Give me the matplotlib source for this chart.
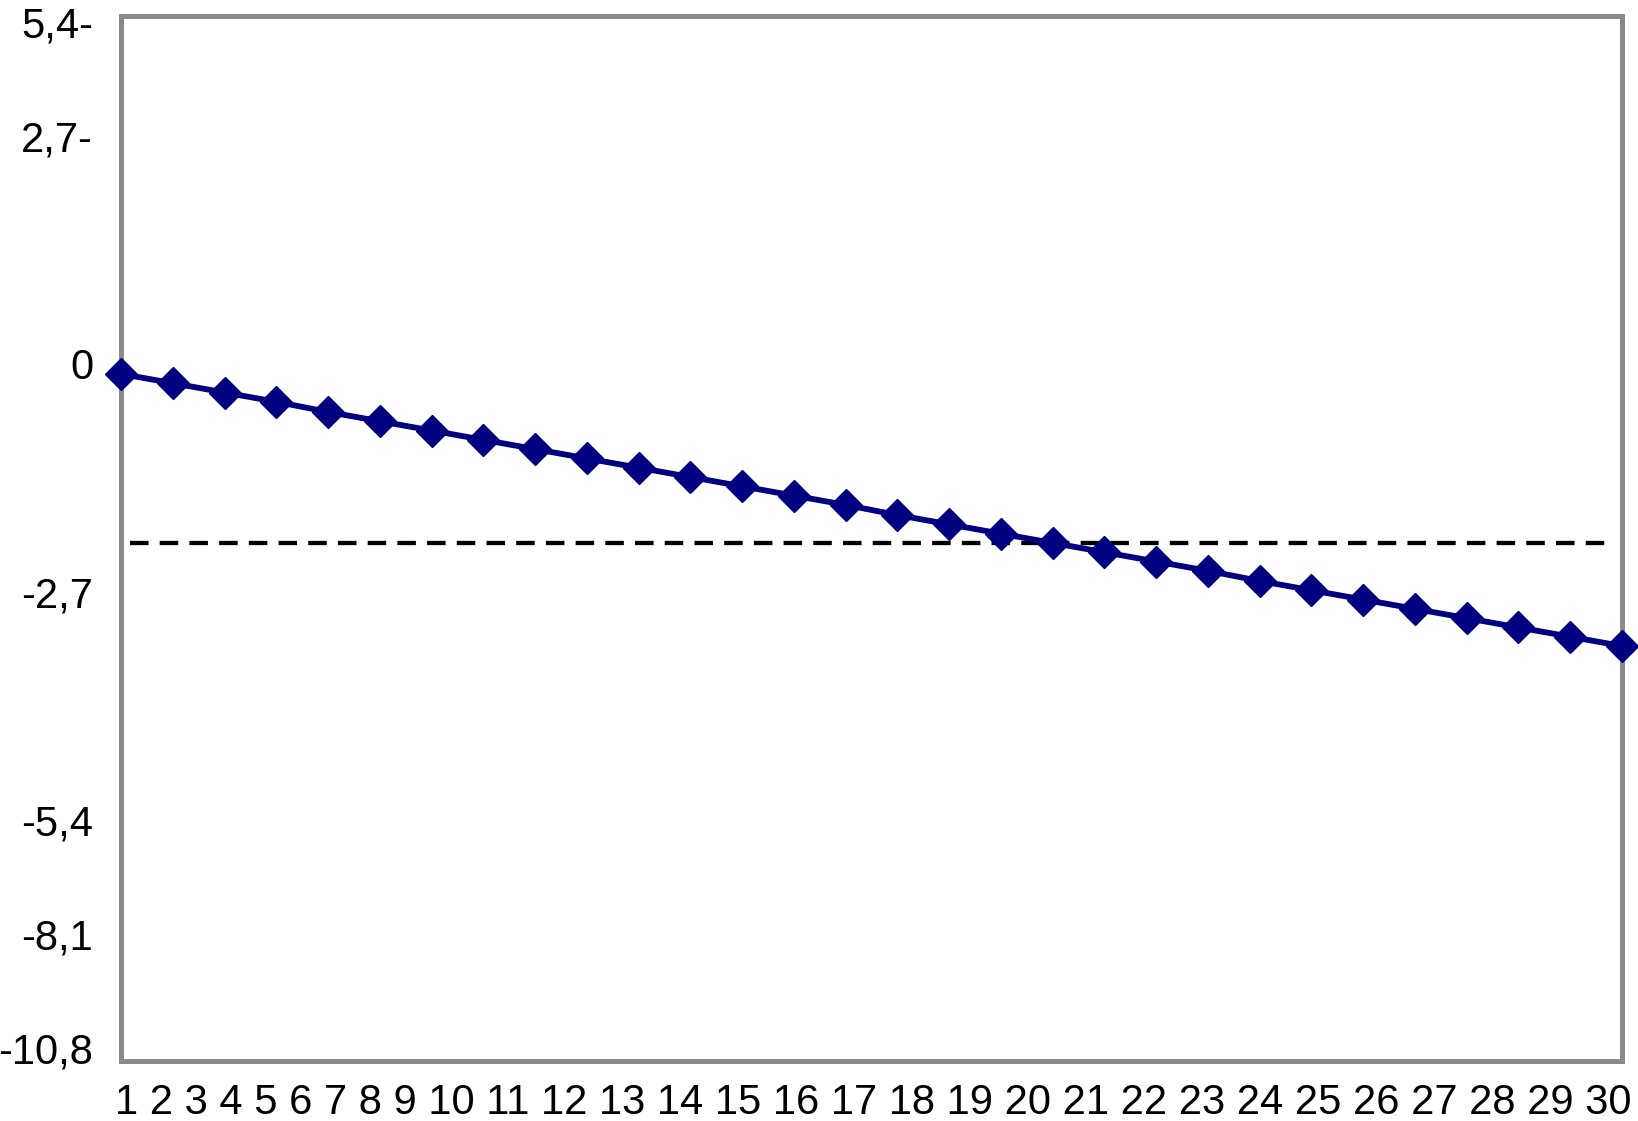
import numpy as np
import matplotlib
matplotlib.use("Agg")
import matplotlib.pyplot as plt
from matplotlib.transforms import ScaledTranslation

plt.rcParams['font.family'] = ['Liberation Sans', 'DejaVu Sans']

# data
periods = list(range(1, 31))
values = [0.00, -0.11, -0.22, -0.33, -0.45, -0.56, -0.67, -0.78, -0.89, -1.00,
          -1.11, -1.22, -1.33, -1.44, -1.55, -1.67, -1.78, -1.89, -2.00, -2.11,
          -2.22, -2.33, -2.45, -2.56, -2.67, -2.78, -2.89, -3.00, -3.11, -3.22]
threshold = -2.0
y_ticks = [5.4, 2.7, 0, -2.7, -5.4, -8.1, -10.8]
y_labels = ["5,4-", "2,7-", "0", "-2,7", "-5,4", "-8,1", "-10,8"]
x_labels = [str(p) for p in periods]


# the y axis is squeezed to half outside [-5.4, 2.7]
def fwd(v):
    v = np.asarray(v, dtype=float)
    return np.where(v > 2.7, 2.7 + (v - 2.7) / 2,
                    np.where(v < -5.4, -5.4 + (v + 5.4) / 2, v))


def inv(u):
    u = np.asarray(u, dtype=float)
    return np.where(u > 2.7, 2.7 + (u - 2.7) * 2,
                    np.where(u < -5.4, -5.4 + (u + 5.4) * 2, u))


fig = plt.figure(figsize=(16.38, 11.21), dpi=100)
ax = fig.add_axes([121 / 1638, 1 - 1061 / 1121, 1501 / 1638, 1045 / 1121])
ax.set_yscale('function', functions=(fwd, inv))

navy = '#000080'
ax.plot(periods, values, color=navy, lw=4.2, marker='D', ms=16,
        mec=navy, mew=1, clip_on=False, zorder=3)
ax.axhline(threshold, xmin=0.006, xmax=0.994, color='black', lw=3.1,
           dashes=(4.3, 2.6), zorder=2)

ax.set_xlim(periods[0], periods[-1])
ax.set_ylim(-10.86, 5.77)

ax.set_yticks(y_ticks)
ax.set_yticklabels(y_labels, fontsize=30)
ax.yaxis.set_minor_locator(matplotlib.ticker.NullLocator())
ax.tick_params(axis='y', length=0, pad=20)
off = ScaledTranslation(0, 10 / 100, fig.dpi_scale_trans)
for lab in ax.get_yticklabels():
    lab.set_transform(lab.get_transform() + off)

ax.set_xticks([])
ax.annotate(" ".join(x_labels), xy=(0.501, 0), xycoords='axes fraction',
            xytext=(0, -16), textcoords='offset points',
            ha='center', va='top', fontsize=30)

for sp in ax.spines.values():
    sp.set_color('#8a8a8a')
    sp.set_linewidth(3.6)

fig.savefig('out.png', dpi=100)
